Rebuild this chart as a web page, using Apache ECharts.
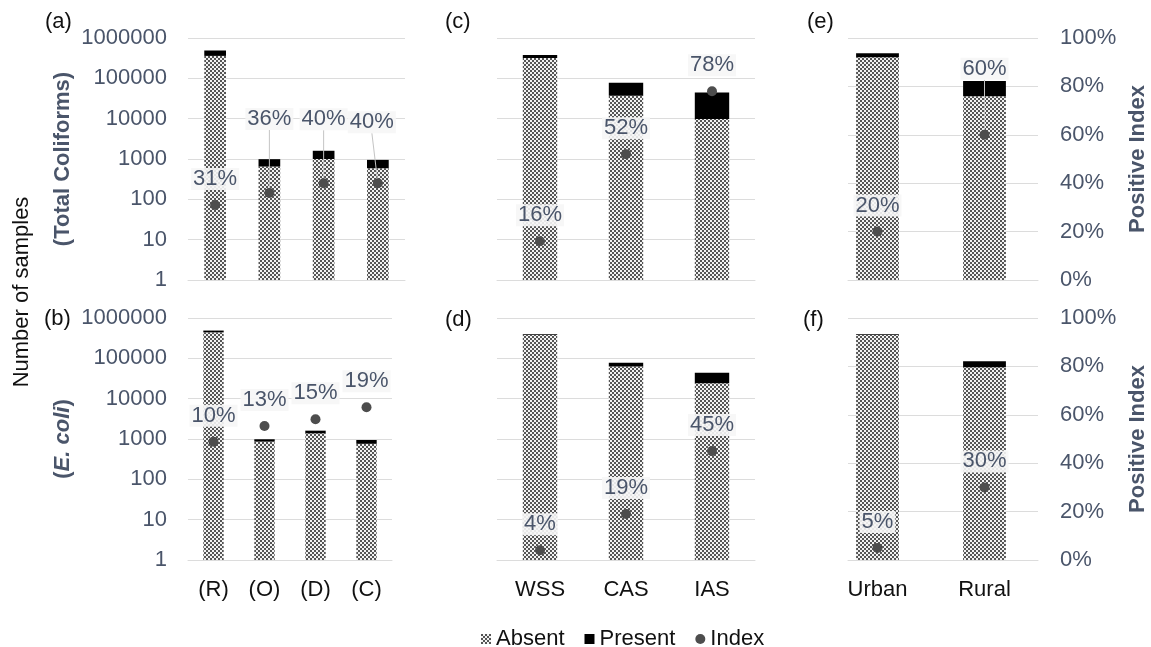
<!DOCTYPE html>
<html>
<head>
<meta charset="utf-8">
<script src="https://cdn.jsdelivr.net/npm/echarts@6/dist/echarts.min.js"></script>
<style>
html,body{margin:0;padding:0;background:#fff;}
#chart{width:1151px;height:647px;}
</style>
</head>
<body>
<div id="chart"></div>
<script>
// ---------- data ----------
const catsSource = ['(R)', '(O)', '(D)', '(C)'];
const catsSystem = ['WSS', 'CAS', 'IAS'];
const catsArea = ['Urban', 'Rural'];

// (a) Total coliforms by source
const absentA = [360000, 650, 1000, 590];
const presentA = [130000, 340, 600, 360];
const indexA = [31, 36, 40, 40];
// (b) E. coli by source
const absentB = [440000, 860, 1380, 760];
const presentB = [48000, 125, 230, 185];
const indexB = [10, 13, 15, 19];
const indexBMarkerCount = [860, 2100, 3100, 6100]; // marker heights read on the count axis in (b)
// (c) Total coliforms by system
const absentC = [318000, 37000, 9800];
const presentC = [62000, 41000, 34500];
const indexC = [16, 52, 78];
// (d) E. coli by system
const absentD = [378000, 63000, 24000];
const presentD = [17000, 15000, 20000];
const indexD = [4, 19, 45];
// (e) Total coliforms by area
const absentE = [335000, 36000];
const presentE = [84000, 50000];
const indexE = [20, 60];
// (f) E. coli by area
const absentF = [380000, 60000];
const presentF = [18000, 25000];
const indexF = [5, 30];

const countMin = 1, countMax = 1000000;
const pctMin = 0, pctMax = 100, pctStep = 20;

// ---------- styles ----------
const FONT = 'Liberation Sans, Arial, sans-serif';
const SLATE = '#4a556a';
const GRIDC = '#dcdcdc';

function makeChecker() {
  const c = document.createElement('canvas');
  c.width = 4; c.height = 4;
  const g = c.getContext('2d');
  g.fillStyle = '#f2f2f2'; g.fillRect(0, 0, 4, 4);
  g.fillStyle = '#555555'; g.fillRect(0, 0, 2, 2); g.fillRect(2, 2, 2, 2);
  return c;
}
const absentFill = { image: makeChecker(), repeat: 'repeat' };

// label shifts [dx, dy] per point (layout only)
const labelShift = {
  a: [null, [0, -48], [0, -38], [-6, -35]],
  e: [null, [0, -40]]
};

const panels = [
  { key: 'a', grid: { left: 188, top: 38, width: 217, height: 242 }, cats: catsSource, absent: absentA, present: presentA, index: indexA, showCountLabels: true, showX: false, countGrid: true },
  { key: 'b', grid: { left: 188, top: 318, width: 204, height: 242 }, cats: catsSource, absent: absentB, present: presentB, index: indexB, markerOnCount: indexBMarkerCount, showCountLabels: true, showX: true, countGrid: true },
  { key: 'c', grid: { left: 497, top: 38, width: 258, height: 242 }, cats: catsSystem, absent: absentC, present: presentC, index: indexC, showCountLabels: false, showX: false, countGrid: true },
  { key: 'd', grid: { left: 497, top: 318, width: 258, height: 242 }, cats: catsSystem, absent: absentD, present: presentD, index: indexD, showCountLabels: false, showX: true, countGrid: true },
  { key: 'e', grid: { left: 824, top: 38, width: 214, height: 242 }, cats: catsArea, absent: absentE, present: presentE, index: indexE, showCountLabels: false, showX: false, countGrid: false },
  { key: 'f', grid: { left: 824, top: 318, width: 214, height: 242 }, cats: catsArea, absent: absentF, present: presentF, index: indexF, showCountLabels: false, showX: true, countGrid: false }
];
// gridline-only frames for (e) and (f), carrying the right-hand percentage axis
const lineFrames = [
  { grid: { left: 848, top: 38, width: 190, height: 242 } },
  { grid: { left: 848, top: 318, width: 190, height: 242 } }
];

const grids = [], xAxes = [], yAxes = [], series = [];

panels.forEach((p, i) => {
  grids.push(p.grid);
  xAxes.push({
    type: 'category', gridIndex: i, data: p.cats,
    axisLine: { show: p.countGrid, lineStyle: { color: GRIDC } },
    axisTick: { show: false },
    axisLabel: { show: p.showX, color: '#111', fontSize: 22, fontFamily: FONT, margin: 19 }
  });
  const countAxis = yAxes.length;
  yAxes.push({
    type: 'log', logBase: 10, gridIndex: i, min: countMin, max: countMax, splitNumber: 6,
    axisLine: { show: false }, axisTick: { show: false },
    axisLabel: { show: p.showCountLabels, color: SLATE, fontSize: 22, fontFamily: FONT, margin: 21,
      formatter: v => String(Math.round(v)) },
    splitLine: { show: p.countGrid, lineStyle: { color: GRIDC, width: 1 } }
  });
  const pctAxis = yAxes.length;
  yAxes.push({
    type: 'value', gridIndex: i, position: 'right', min: pctMin, max: pctMax, interval: pctStep,
    axisLine: { show: false }, axisTick: { show: false }, axisLabel: { show: false }, splitLine: { show: false }
  });
  series.push({
    name: 'Absent', type: 'bar', xAxisIndex: i, yAxisIndex: countAxis, stack: 'st' + p.key,
    barWidth: '40%', data: p.absent, itemStyle: { color: absentFill }, z: 2
  });
  series.push({
    name: 'Present', type: 'bar', xAxisIndex: i, yAxisIndex: countAxis, stack: 'st' + p.key,
    barWidth: '40%', data: p.present, itemStyle: { color: '#000' }, z: 2
  });
  const shifts = labelShift[p.key] || [];
  const idxVals = p.markerOnCount ? p.markerOnCount : p.index;
  series.push({
    name: 'Index', type: 'scatter', xAxisIndex: i, yAxisIndex: p.markerOnCount ? countAxis : pctAxis,
    symbol: 'circle', symbolSize: 10,
    itemStyle: { color: '#4d4d4d', opacity: 1 },
    z: 5,
    data: idxVals.map((v, k) => ({
      value: [p.cats[k], v],
      labelLine: { show: !!shifts[k], lineStyle: { color: '#c4c4c4', width: 1 } }
    })),
    label: {
      show: true, position: 'top', distance: 10,
      formatter: prm => p.index[prm.dataIndex] + '%',
      color: SLATE, fontSize: 22, fontFamily: FONT,
      backgroundColor: 'rgba(246,246,246,0.9)', padding: [0, 2]
    },
    labelLayout: prm => {
      const s = shifts[prm.dataIndex];
      return s ? { dx: s[0], dy: s[1] } : {};
    }
  });
});

lineFrames.forEach((f, j) => {
  const gi = grids.length;
  grids.push(f.grid);
  xAxes.push({
    type: 'category', gridIndex: gi, data: [''],
    axisLine: { show: true, lineStyle: { color: GRIDC } }, axisTick: { show: false }, axisLabel: { show: false }
  });
  yAxes.push({
    type: 'value', gridIndex: gi, position: 'right', min: pctMin, max: pctMax, interval: pctStep,
    axisLine: { show: false }, axisTick: { show: false },
    axisLabel: { color: SLATE, fontSize: 22, fontFamily: FONT, margin: 22, formatter: '{value}%' },
    splitLine: { show: true, lineStyle: { color: GRIDC, width: 1 } }
  });
});

const txt = (text, x, y) => ({
  type: 'text', x: x, y: y, silent: true,
  style: { text: text, fill: '#111', font: '22px ' + FONT, align: 'left', verticalAlign: 'middle' }
});

const graphics = [
  txt('(a)', 45, 22), txt('(b)', 44, 319), txt('(c)', 445, 22), txt('(d)', 445, 320),
  txt('(e)', 807, 22), txt('(f)', 803, 320),
  { type: 'text', x: 22, y: 292, rotation: Math.PI / 2, silent: true,
    style: { text: 'Number of samples', fill: '#111', font: '22px ' + FONT, align: 'center', verticalAlign: 'middle' } },
  { type: 'text', x: 63, y: 159, rotation: Math.PI / 2, silent: true,
    style: { text: '(Total Coliforms)', fill: SLATE, font: 'bold 22px ' + FONT, align: 'center', verticalAlign: 'middle' } },
  { type: 'text', x: 63, y: 439, rotation: Math.PI / 2, silent: true,
    style: { text: '{n|(}{i|E. coli}{n|)}', align: 'center', verticalAlign: 'middle',
      rich: { n: { fill: SLATE, font: 'bold 22px ' + FONT }, i: { fill: SLATE, font: 'italic bold 22px ' + FONT } } } },
  { type: 'text', x: 1138, y: 159, rotation: Math.PI / 2, silent: true,
    style: { text: 'Positive Index', fill: SLATE, font: 'bold 22px ' + FONT, align: 'center', verticalAlign: 'middle' } },
  { type: 'text', x: 1138, y: 439, rotation: Math.PI / 2, silent: true,
    style: { text: 'Positive Index', fill: SLATE, font: 'bold 22px ' + FONT, align: 'center', verticalAlign: 'middle' } }
];

const chart = echarts.init(document.getElementById('chart'), null, { renderer: 'canvas' });
chart.setOption({
  animation: false,
  backgroundColor: '#fff',
  textStyle: { fontFamily: FONT },
  legend: {
    left: 476, top: 623,
    itemWidth: 10, itemHeight: 10, itemGap: 20,
    textStyle: { color: '#111', fontSize: 22, fontFamily: FONT },
    data: [
      { name: 'Absent', icon: 'rect' },
      { name: 'Present', icon: 'rect' },
      { name: 'Index', icon: 'circle' }
    ],
    selectedMode: false
  },
  grid: grids,
  xAxis: xAxes,
  yAxis: yAxes,
  series: series,
  graphic: graphics
});
</script>
</body>
</html>
